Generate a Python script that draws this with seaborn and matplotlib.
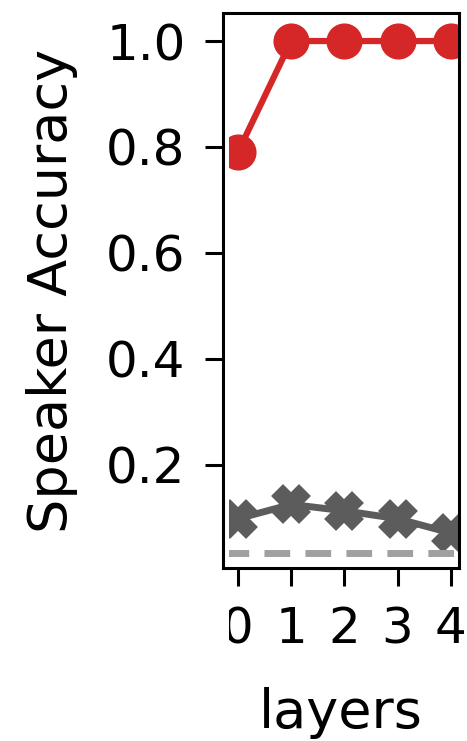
import matplotlib
matplotlib.use("Agg")
import matplotlib.pyplot as plt
import seaborn as sns
import pandas as pd
from matplotlib.transforms import Bbox, TransformedBbox, blended_transform_factory
from matplotlib.patches import Rectangle

layers = [0, 1, 2, 3, 4]
speaker_acc = [0.79, 1.0, 1.0, 1.0, 1.0]
baseline_acc = [0.098, 0.125, 0.113, 0.098, 0.071]
chance = 0.033
yticks = [0.2, 0.4, 0.6, 0.8, 1.0]

sns.set_theme(style="ticks")
plt.rcParams['font.family'] = ['DejaVu Sans']
plt.rcParams['text.color'] = 'black'
plt.rcParams['axes.labelcolor'] = 'black'

fig = plt.figure(figsize=(4.67, 7.41), dpi=100)
ax = fig.add_axes([0.4775, 0.2335, 0.505, 0.749])

df = pd.DataFrame({"layers": layers, "speaker": speaker_acc, "baseline": baseline_acc})

xmin, xmax = -0.28, 4.15
clip_rect = Rectangle((-0.17, -1), 4.32, 3, transform=ax.transData)

sns.lineplot(data=df, x="layers", y="speaker", ax=ax, color="#d62728",
             marker="o", markersize=26, linewidth=4.5, markeredgewidth=0)
sns.lineplot(data=df, x="layers", y="baseline", ax=ax, color="#5c5c5c",
             marker="X", markersize=23, linewidth=5, markeredgewidth=4,
             markeredgecolor="#5c5c5c")
ax.axhline(chance, color="#a0a0a0", linestyle=(0, (3.7, 2.2)), linewidth=5)

ax.set_xlim(xmin, xmax)
ax.set_ylim(0.005, 1.053)
ax.set_xticks(layers)
ax.set_yticks(yticks)
ax.set_yticklabels([f"{v:.1f}" for v in yticks])
ax.tick_params(axis="both", labelsize=36, length=13, width=2.2, colors="black")
ax.tick_params(axis="y", pad=14)
ax.tick_params(axis="x", pad=14)
ax.set_xlabel("layers", fontsize=39, labelpad=24, color="black")
ax.set_ylabel("Speaker Accuracy", fontsize=39, labelpad=20, color="black")
for s in ax.spines.values():
    s.set_linewidth(2.2)
    s.set_color("black")

for line in ax.lines:
    line.set_clip_path(clip_rect)

fig.canvas.draw()
tb = TransformedBbox(Bbox([[-0.17, 0], [10, 1]]),
                     blended_transform_factory(ax.transData, fig.transFigure))
for lab in ax.get_xticklabels():
    lab.set_clip_box(tb)
    lab.set_clip_on(True)

fig.savefig("out.png", dpi=100)
